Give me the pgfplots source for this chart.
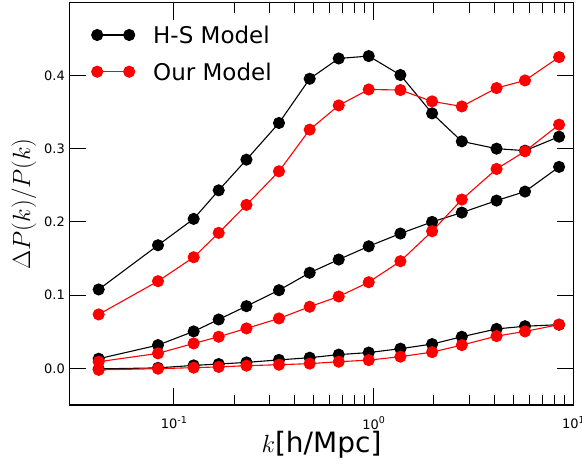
\documentclass[border=0pt]{standalone}
\usepackage{pgfplots}
\pgfplotsset{compat=1.18}
\usepackage{pgfplotstable}
\usepackage{fontspec}
\setmainfont{DejaVu Sans}
\pgfplotstableread{
k      hsA    ourA   hsB    ourB   hsC     ourC
0.0420 0.1078 0.0737 0.0132 0.0091 -0.0007 -0.0020
0.0832 0.1682 0.1191 0.0318 0.0205 0.0007  -0.0004
0.1255 0.2042 0.1518 0.0505 0.0341 0.0041  0.0010
0.1675 0.2432 0.1851 0.0668 0.0432 0.0059  0.0020
0.2306 0.2851 0.2233 0.0850 0.0546 0.0082  0.0037
0.3356 0.3352 0.2692 0.1068 0.0682 0.0116  0.0050
0.478  0.3956 0.3261 0.1306 0.0842 0.0146  0.0065
0.668  0.4233 0.3592 0.1487 0.0982 0.0188  0.0091
0.944  0.4266 0.3810 0.1668 0.1177 0.0216  0.0113
1.36   0.4007 0.3802 0.1842 0.1464 0.0269  0.0160
1.96   0.3483 0.3647 0.2001 0.1873 0.0332  0.0222
2.76   0.3101 0.3578 0.2128 0.2306 0.0432  0.0318
4.12   0.3001 0.3829 0.2292 0.2724 0.0539  0.0441
5.72   0.2974 0.3933 0.2415 0.2965 0.0576  0.0505
8.47   0.3165 0.4252 0.2752 0.3329 0.0597  0.0598
}\datatab
\newcommand{\sups}[1]{\raisebox{0.45em}{\fontsize{9.5}{10}\selectfont #1}}
\begin{document}
\begin{tikzpicture}
\begin{axis}[name=ax, xmode=log, scale only axis, width=504pt, height=402.3pt,
  xmin=0.03, xmax=10, ymin=-0.05, ymax=0.4995,
  xtick={0.1,1,10}, xticklabels={10\sups{-1},10\sups{0},10\sups{1}},
  ytick={0,0.1,0.2,0.3,0.4},
  tick align=inside, major tick length=17pt, minor tick length=10pt,
  tick style={black, line width=1pt},
  axis line style={line width=1.2pt},
  ticklabel style={font=\fontsize{13}{15}\selectfont, inner sep=0pt},
  yticklabel style={/pgf/number format/fixed, /pgf/number format/fixed zerofill, /pgf/number format/precision=1, /pgf/number format/assume math mode=true, anchor=east, xshift=-4.5pt},
  xticklabel style={anchor=north, yshift=-11pt},
  xlabel={$k$[h/Mpc]}, ylabel={$\Delta P(k)/P(k)$},
  xlabel style={at={(axis description cs:0.5,-0.0995)}, anchor=center, font=\fontsize{28}{32}\selectfont},
  ylabel style={at={(axis description cs:-0.0903,0.5)}, anchor=center, font=\fontsize{28}{32}\selectfont},
  legend style={at={(axis description cs:0,1)}, anchor=north west, xshift=22.2pt, yshift=-23.8pt, draw=none, fill=none, inner sep=0pt, outer sep=0pt, font=\fontsize{23}{26}\selectfont, row sep=19.7pt, column sep=18.5pt, nodes={inner sep=0pt, text height=17pt, text depth=0pt}},
  legend cell align=left,
  legend image code/.code={\draw[#1] plot coordinates {(0pt,0pt) (32pt,0pt)};},
  every axis plot/.append style={line width=1.1pt, mark=*, mark size=5.5pt},
]
\addplot[black] table[x=k,y=hsA]{\datatab}; \addlegendentry{H-S Model}
\addplot[black, forget plot] table[x=k,y=hsB]{\datatab};
\addplot[black, forget plot] table[x=k,y=hsC]{\datatab};
\addplot[red] table[x=k,y=ourA]{\datatab}; \addlegendentry{Our Model}
\addplot[red, forget plot] table[x=k,y=ourB]{\datatab};
\addplot[red, forget plot] table[x=k,y=ourC]{\datatab};
\end{axis}
\pgfresetboundingbox
\path ([shift={(-69.5pt,-60pt)}]ax.south west) rectangle ([shift={(8.5pt,2.7pt)}]ax.north east);
\end{tikzpicture}
\end{document}
